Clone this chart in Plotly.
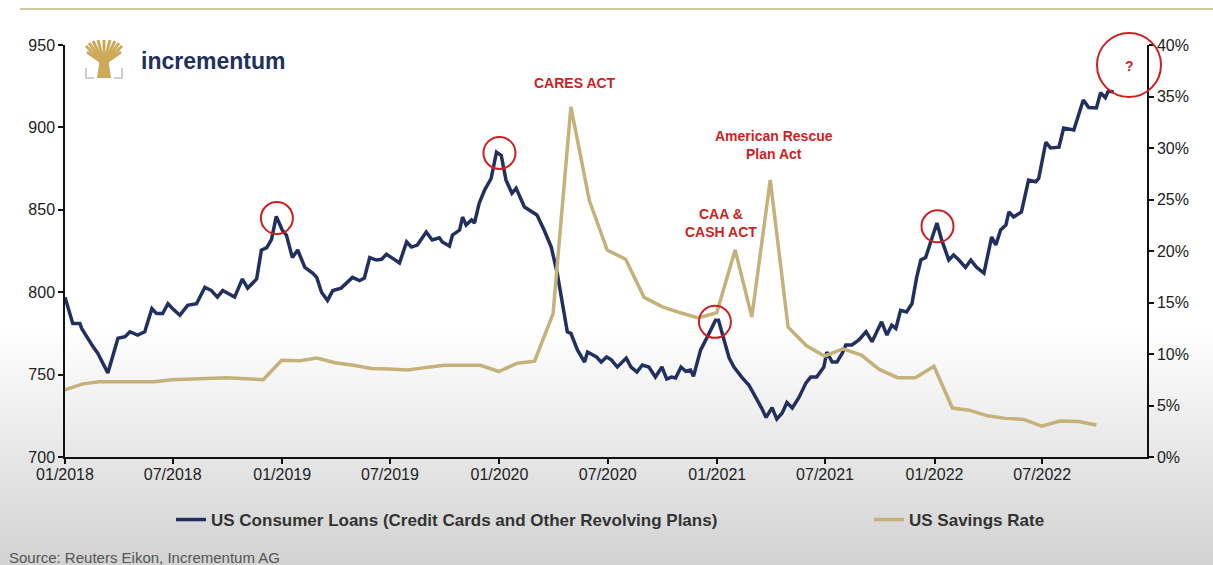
import base64
import pandas as pd
import plotly.graph_objects as go

# ---------------- data ----------------
loan_dates = [
    "2018-01-01", "2018-01-14", "2018-01-26", "2018-01-29", "2018-02-17", "2018-02-25", "2018-03-14", "2018-03-31",
    "2018-04-12", "2018-04-20", "2018-05-03", "2018-05-15", "2018-05-27", "2018-06-04", "2018-06-14", "2018-06-23",
    "2018-07-01", "2018-07-13", "2018-07-26", "2018-08-10", "2018-08-24", "2018-09-04", "2018-09-14", "2018-09-23",
    "2018-10-13", "2018-10-26", "2018-11-04", "2018-11-19", "2018-11-27", "2018-12-06", "2018-12-14", "2018-12-22",
    "2019-01-01", "2019-01-08", "2019-01-18", "2019-01-27", "2019-02-08", "2019-02-21", "2019-02-28", "2019-03-08",
    "2019-03-18", "2019-03-27", "2019-04-10", "2019-04-29", "2019-05-11", "2019-05-19", "2019-05-28", "2019-06-08",
    "2019-06-17", "2019-06-25", "2019-07-05", "2019-07-17", "2019-07-29", "2019-08-06", "2019-08-16", "2019-08-31",
    "2019-09-10", "2019-09-22", "2019-09-27", "2019-10-09", "2019-10-14", "2019-10-26", "2019-10-31", "2019-11-06",
    "2019-11-15", "2019-11-20", "2019-11-28", "2019-12-07", "2019-12-18", "2019-12-27",
    "2020-01-04", "2020-01-12", "2020-01-22", "2020-01-29", "2020-02-12", "2020-02-25", "2020-03-04", "2020-03-16",
    "2020-03-28", "2020-04-07", "2020-04-15", "2020-04-24", "2020-04-30", "2020-05-11", "2020-05-23", "2020-05-28",
    "2020-06-12", "2020-06-20", "2020-06-29", "2020-07-07", "2020-07-17", "2020-08-01", "2020-08-09", "2020-08-19",
    "2020-08-28", "2020-09-08", "2020-09-19", "2020-09-30", "2020-10-08", "2020-10-16", "2020-10-23", "2020-11-01",
    "2020-11-09", "2020-11-17", "2020-11-22", "2020-12-04", "2020-12-14", "2020-12-29",
    "2021-01-03", "2021-01-12", "2021-01-21", "2021-01-29", "2021-02-12", "2021-02-23", "2021-03-07", "2021-03-16",
    "2021-03-24", "2021-04-03", "2021-04-11", "2021-04-20", "2021-04-28", "2021-05-07", "2021-05-18", "2021-05-30",
    "2021-06-07", "2021-06-17", "2021-06-29", "2021-07-04", "2021-07-13", "2021-07-21", "2021-07-30", "2021-08-05",
    "2021-08-15", "2021-08-27", "2021-09-08", "2021-09-18", "2021-10-04", "2021-10-13", "2021-10-21", "2021-10-28",
    "2021-11-05", "2021-11-15", "2021-11-24", "2021-12-02", "2021-12-09", "2021-12-17",
    "2022-01-05", "2022-01-13", "2022-01-25", "2022-02-02", "2022-02-11", "2022-02-22", "2022-03-03", "2022-03-13",
    "2022-03-25", "2022-04-07", "2022-04-14", "2022-04-22", "2022-05-01", "2022-05-06", "2022-05-14", "2022-05-27",
    "2022-06-08", "2022-06-20", "2022-06-25", "2022-07-07", "2022-07-15", "2022-07-29", "2022-08-06", "2022-08-23",
    "2022-09-08", "2022-09-17", "2022-09-30", "2022-10-07", "2022-10-15", "2022-10-20", "2022-10-29",
]
loan_values = [
    797, 781, 781, 778, 767, 763, 751, 772, 773, 776, 774, 776, 790, 787, 787, 793,
    790, 786, 792, 793, 803, 801, 797, 801, 797, 808, 802.5, 808, 825.5, 827, 832, 846,
    837.7, 834.7, 821, 825.6, 815, 811.6, 809, 800, 795, 801, 802.5, 809, 807, 808.6, 821, 819.5,
    820, 823, 820.7, 817.7, 830.5, 827.4, 828.6, 836.5, 831.7, 833, 830.5, 828, 834.7, 837.7, 845.6, 840.8,
    843.8, 842, 854, 862, 869, 885,
    883, 868, 860, 863, 851.7, 848.7, 846.8, 837.7, 827.4, 811.6, 793.4, 776, 775, 765, 757.6, 763.7,
    760.7, 757.6, 760.7, 759, 754.6, 760, 754.6, 751.6, 755.8, 754.6, 748.5, 754.6, 747.3, 748.5, 748, 754.6,
    752, 752.8, 749, 765, 772, 783,
    783, 771, 760, 754.6, 748, 743.7, 736, 730, 724, 730, 723, 726.7, 733, 729.7, 736, 745,
    748.5, 748.5, 754.6, 763.7, 757.6, 757.6, 763, 768, 768, 771, 776, 770, 782, 774, 780, 778,
    789, 788, 793, 809, 819.5, 821,
    842, 831.7, 819.5, 822.6, 819.5, 815, 819.5, 815, 811.6, 833.5, 828.6, 837.7, 840.8, 848.7, 845.6, 848.7,
    868, 867, 869, 891, 887.5, 888, 899.6, 898.4, 916.6, 912, 911.8, 921, 918, 922, 921.5,
]

savings_start = "2017-12-31"
savings_values = [
    6.5,
    7.1, 7.3, 7.3, 7.3, 7.3, 7.5, 7.55, 7.65, 7.7, 7.6, 7.5, 9.4,
    9.35, 9.6, 9.15, 8.9, 8.6, 8.55, 8.45, 8.7, 8.9, 8.9, 8.9, 8.3,
    9.1, 9.3, 13.9, 34.0, 24.9, 20.1, 19.2, 15.5, 14.6, 14.0, 13.5, 14.0,
    20.1, 13.6, 26.9, 12.6, 10.8, 9.8, 10.5, 9.9, 8.5, 7.7, 7.7, 8.8,
    4.75, 4.55, 4.0, 3.75, 3.65, 3.0, 3.5, 3.45, 3.1,
]
savings_dates = pd.date_range(savings_start, periods=len(savings_values), freq=pd.offsets.MonthEnd())

# highlighted peaks (date, loan level)
peak_dates = ["2018-12-23", "2020-01-01", "2020-12-28", "2022-01-06"]
peak_values = [845, 884.5, 782, 840]

x_ticks = ["2018-01-01", "2018-07-01", "2019-01-01", "2019-07-01", "2020-01-01",
           "2020-07-01", "2021-01-01", "2021-07-01", "2022-01-01", "2022-07-01"]
x_ticktext = ["01/2018", "07/2018", "01/2019", "07/2019", "01/2020",
              "07/2020", "01/2021", "07/2021", "01/2022", "07/2022"]

NAVY = "#22305f"
GOLD = "#c4b27a"
RED = "#d01f1f"
FONT = "Arial, Liberation Sans, sans-serif"

# ---------------- layout geometry ----------------
W, H = 1213, 565
ML, MR, MT, MB = 65, 66, 45, 108
PW, PH = W - ML - MR, H - MT - MB


def px(X):
    return (X - ML) / PW


def py(Y):
    return (H - MB - Y) / PH


fig = go.Figure()
fig.add_trace(go.Scatter(
    x=loan_dates, y=loan_values, mode="lines",
    name="US Consumer Loans (Credit Cards and Other Revolving Plans)",
    line=dict(color=NAVY, width=3.5), yaxis="y", legend="legend", showlegend=True,
))
fig.add_trace(go.Scatter(
    x=savings_dates, y=savings_values, mode="lines",
    name="US Savings Rate",
    line=dict(color=GOLD, width=3.5), yaxis="y2", legend="legend2", showlegend=True,
))

shapes = []
# top rule
shapes.append(dict(type="line", xref="paper", yref="paper", x0=px(20), x1=px(1213), y0=py(9), y1=py(9),
                   line=dict(color="#cfc8a2", width=2)))
# circles around peaks
for d, v in zip(peak_dates, peak_values):
    shapes.append(dict(type="circle", xref="x", yref="y", xsizemode="pixel", ysizemode="pixel",
                       xanchor=d, yanchor=v, x0=-16, x1=16, y0=-16, y1=16,
                       line=dict(color=RED, width=2)))
# big question circle
shapes.append(dict(type="circle", xref="paper", yref="paper", xsizemode="pixel", ysizemode="pixel",
                   xanchor=px(1129), yanchor=py(65), x0=-32, x1=32, y0=-32, y1=32,
                   line=dict(color=RED, width=2)))

# logo: tree
LOGO_GOLD = "#cdaa5a"
base = (104, 64)
for tx, ty in [(86, 46), (89, 43), (93, 41), (98, 40), (104, 40), (110, 40), (115, 41), (119, 43), (122, 46),
               (87, 52), (121, 52)]:
    shapes.append(dict(type="line", xref="paper", yref="paper", x0=px(base[0]), y0=py(base[1]),
                       x1=px(tx), y1=py(ty), line=dict(color=LOGO_GOLD, width=3)))
shapes.append(dict(type="path", xref="paper", yref="paper",
                   path=f"M {px(100)},{py(58)} L {px(108)},{py(58)} L {px(111)},{py(78)} L {px(97)},{py(78)} Z",
                   fillcolor=LOGO_GOLD, line=dict(width=0)))
shapes.append(dict(type="path", xref="paper", yref="paper",
                   path=f"M {px(86)},{py(68)} L {px(86)},{py(78)} L {px(94)},{py(78)}",
                   line=dict(color="#cfcfcf", width=2)))
shapes.append(dict(type="path", xref="paper", yref="paper",
                   path=f"M {px(122)},{py(68)} L {px(122)},{py(78)} L {px(114)},{py(78)}",
                   line=dict(color="#cfcfcf", width=2)))

annotations = [
    dict(text="<b>CARES ACT</b>", x=px(575), y=py(83)),
    dict(text="<b>American Rescue<br>Plan Act</b>", x=px(774), y=py(145)),
    dict(text="<b>CAA &<br>CASH ACT</b>", x=px(721), y=py(223)),
    dict(text="<b>?</b>", x=px(1129), y=py(66)),
]
for a in annotations:
    a.update(xref="paper", yref="paper", showarrow=False, xanchor="center", yanchor="middle",
             font=dict(family=FONT, size=14, color=RED))
annotations.append(dict(text="<b>incrementum</b>", x=px(139), y=py(61), xref="paper", yref="paper",
                        showarrow=False, xanchor="left", yanchor="middle",
                        font=dict(family=FONT, size=23, color=NAVY)))
annotations.append(dict(text="Source: Reuters Eikon, Incrementum AG", x=px(7), y=py(557), xref="paper",
                        yref="paper", showarrow=False, xanchor="left", yanchor="middle",
                        font=dict(family=FONT, size=15, color="#555555")))

# gradient background as svg image
svg = ('<svg xmlns="http://www.w3.org/2000/svg" width="10" height="100" preserveAspectRatio="none">'
       '<defs><linearGradient id="g" x1="0" y1="0" x2="0" y2="1">'
       '<stop offset="0" stop-color="#ffffff"/><stop offset="0.58" stop-color="#ffffff"/>'
       '<stop offset="1" stop-color="#d2d2d2"/></linearGradient></defs>'
       '<rect width="10" height="100" fill="url(#g)"/></svg>')
svg_uri = "data:image/svg+xml;base64," + base64.b64encode(svg.encode()).decode()

axis_common = dict(showline=True, linecolor="#111111", linewidth=1.5, ticks="outside", ticklen=5,
                   tickwidth=1.5, tickcolor="#111111", showgrid=False, zeroline=False,
                   tickfont=dict(family=FONT, size=16, color="#222222"))

legend_font = dict(family=FONT, size=17, color="#333333", weight="bold")

fig.update_layout(
    width=W, height=H,
    margin=dict(l=ML, r=MR, t=MT, b=MB, pad=0),
    paper_bgcolor="#ffffff", plot_bgcolor="rgba(0,0,0,0)",
    font=dict(family=FONT),
    showlegend=True,
    xaxis=dict(range=["2018-01-01", "2022-12-24"], tickvals=x_ticks, ticktext=x_ticktext,
               ticklabelstandoff=-3, **axis_common),
    yaxis=dict(range=[700, 950], dtick=50, tick0=700, **axis_common),
    yaxis2=dict(range=[0, 40], dtick=5, tick0=0, ticksuffix="%", overlaying="y", side="right",
                **axis_common),
    legend=dict(orientation="h", x=px(171), xanchor="left", y=py(520), yanchor="middle",
                bgcolor="rgba(0,0,0,0)", font=legend_font, visible=True),
    legend2=dict(orientation="h", x=px(869), xanchor="left", y=py(520), yanchor="middle",
                 bgcolor="rgba(0,0,0,0)", font=legend_font, visible=True),
    shapes=shapes,
    annotations=annotations,
    images=[dict(source=svg_uri, xref="paper", yref="paper", x=px(0), y=py(0), sizex=W / PW, sizey=H / PH,
                 xanchor="left", yanchor="top", sizing="stretch", layer="below")],
)

fig.write_html("out.html")
